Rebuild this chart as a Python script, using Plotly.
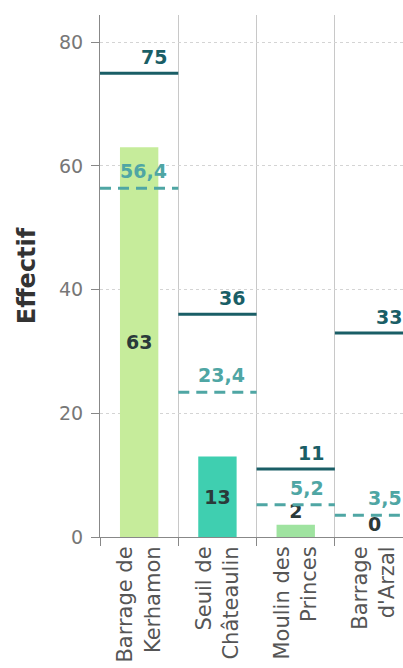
import plotly.graph_objects as go

# ---- data ----
categories = ["Barrage de<br>Kerhamon", "Seuil de<br>Châteaulin", "Moulin des<br>Princes", "Barrage<br>d'Arzal"]
effectif = [63, 13, 2, 0]
ref_solid = [75, 36, 11, 33]
ref_dashed = [56.4, 23.4, 5.2, 3.5]
bar_colors = ["#c6ec9b", "#3fcfb0", "#9fe3a0", "#9fe3a0"]
y_ticks = [0, 20, 40, 60, 80]

FONT = "DejaVu Sans"
SOLID_COLOR = "#1a5e66"
DASH_COLOR = "#4fa6a4"
BAR_TEXT = "#2a3a3a"


def fr(v):
    s = ("%g" % v)
    return s.replace(".", ",")


fig = go.Figure()
fig.add_trace(go.Bar(
    x=categories, y=effectif, width=0.49,
    marker=dict(color=bar_colors, line=dict(width=0)),
    text=[fr(v) for v in effectif],
    textposition="auto", insidetextanchor="middle", textangle=0,
    textfont=dict(family=FONT, size=19, color=BAR_TEXT, weight="bold"),
    cliponaxis=False, showlegend=False, hoverinfo="skip",
))

shapes = []
annotations = []
# zero-height bars get no bar text from plotly: label them explicitly
for i, v in enumerate(effectif):
    if v == 0:
        annotations.append(dict(x=categories[i], y=v, xref="x", yref="y", text=fr(v),
                                xanchor="center", yanchor="bottom", yshift=0, showarrow=False,
                                font=dict(family=FONT, size=19, color=BAR_TEXT, weight="bold")))
for i, v in enumerate(ref_solid):
    shapes.append(dict(type="line", xref="x", yref="y", x0=i - 0.5, x1=i + 0.5, y0=v, y1=v,
                       line=dict(color=SOLID_COLOR, width=3), layer="above"))
    annotations.append(dict(x=categories[i], y=v, xref="x", yref="y", text=fr(v),
                            xanchor="right", yanchor="bottom", xshift=30, yshift=3, showarrow=False,
                            font=dict(family=FONT, size=19, color=SOLID_COLOR, weight="bold")))
for i, v in enumerate(ref_dashed):
    shapes.append(dict(type="line", xref="x", yref="y", x0=i - 0.5, x1=i + 0.5, y0=v, y1=v,
                       line=dict(color=DASH_COLOR, width=3, dash="11px,7px"), layer="above"))
    annotations.append(dict(x=categories[i], y=v, xref="x", yref="y", text=fr(v),
                            xanchor="right", yanchor="bottom", xshift=30, yshift=4, showarrow=False,
                            font=dict(family=FONT, size=19, color=DASH_COLOR, weight="bold")))

fig.update_layout(
    width=403, height=668,
    margin=dict(l=100, r=0, t=15, b=131),
    paper_bgcolor="white", plot_bgcolor="white",
    font=dict(family=FONT, color="#555"),
    shapes=shapes, annotations=annotations,
)
fig.update_xaxes(
    type="category", range=[-0.5, 3.37], tickson="boundaries",
    ticks="outside", ticklen=8, tickcolor="#888", tickwidth=1,
    showline=True, linecolor="#888", linewidth=1,
    showgrid=True, gridcolor="#c8c8c8", gridwidth=1,
    tickangle=-90, tickfont=dict(family=FONT, size=21, color="#555"),
)
fig.update_yaxes(
    range=[0, 84.4], tickvals=y_ticks,
    ticks="outside", ticklen=8, tickcolor="#888", tickwidth=1,
    showline=True, linecolor="#888", linewidth=1,
    showgrid=True, gridcolor="#d4d4d4", griddash="dot", zeroline=False,
    tickfont=dict(family=FONT, size=19, color="#777"), ticklabelstandoff=4,
    title=dict(text="Effectif", standoff=16,
               font=dict(family=FONT, size=24, color="#333", weight="bold")),
    automargin=False,
)

fig.write_html(
    "out.html",
    config={"displayModeBar": False, "staticPlot": True},
    post_script="document.body.style.margin='0';document.documentElement.style.overflow='hidden';",
)
